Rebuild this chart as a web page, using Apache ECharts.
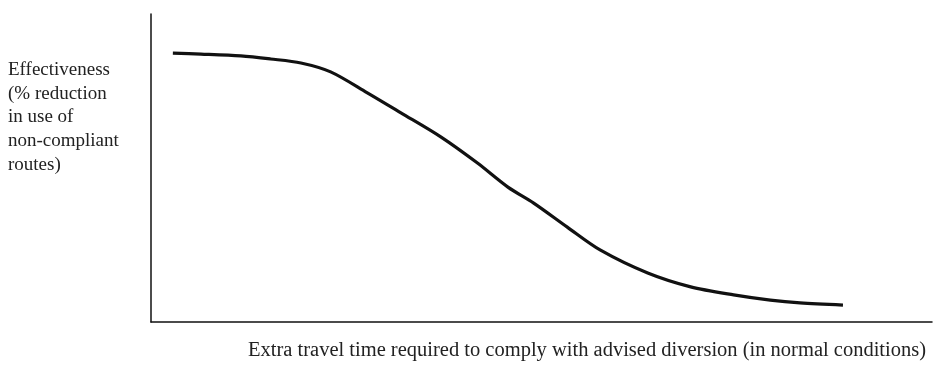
<!DOCTYPE html>
<html>
<head>
<meta charset="utf-8">
<script src="https://cdn.jsdelivr.net/npm/echarts@6/dist/echarts.min.js"></script>
<style>
  html, body { margin: 0; padding: 0; background: #fff; }
  #chart { width: 935px; height: 366px; }
</style>
</head>
<body>
<div id="chart"></div>
<script>
// extra travel time (arbitrary units, 0-100 along the axis)
var travelTime = [2.8, 6.4, 11.5, 15.3, 19.2, 23.0, 27.7, 32.0, 37.1, 41.8, 45.7, 49.0, 53.3, 57.5, 63.6, 69.1, 74.6, 79.3, 83.1, 88.6];
// effectiveness (% reduction, arbitrary scale 0-100)
var effectiveness = [87.3, 87.0, 86.4, 85.4, 84.1, 81.2, 74.4, 67.9, 60.1, 51.6, 43.8, 38.6, 30.8, 23.4, 15.9, 11.4, 8.8, 7.1, 6.2, 5.5];

var yLabelLines = ['Effectiveness', '(% reduction', 'in use of', 'non-compliant', 'routes)'];
var xLabel = 'Extra travel time required to comply with advised diversion (in normal conditions)';

var fontFam = '"Liberation Serif", "DejaVu Serif", serif';

var points = travelTime.map(function (x, i) { return [x, effectiveness[i]]; });

var myChart = echarts.init(document.getElementById('chart'));

var option = {
    animation: false,
    backgroundColor: '#fff',
    grid: { left: 151, top: 14, width: 781, height: 308 },
    xAxis: {
        type: 'value', min: 0, max: 100,
        axisLine: { show: true, lineStyle: { color: '#111', width: 1.5 } },
        axisTick: { show: false }, axisLabel: { show: false },
        splitLine: { show: false }
    },
    yAxis: {
        type: 'value', min: 0, max: 100,
        axisLine: { show: true, lineStyle: { color: '#111', width: 1.5 } },
        axisTick: { show: false }, axisLabel: { show: false },
        splitLine: { show: false }
    },
    series: [{
        type: 'line',
        data: points,
        smooth: 0.3,
        symbol: 'none',
        lineStyle: { color: '#111', width: 3.2 }
    }],
    graphic: [{
        type: 'text',
        left: 8, top: 58,
        style: {
            text: yLabelLines.join('\n'),
            font: '19px ' + fontFam,
            lineHeight: 23.7,
            fill: '#222'
        }
    }, {
        type: 'text',
        left: 248, top: 340,
        style: {
            text: xLabel,
            font: '20.5px ' + fontFam,
            fill: '#222'
        }
    }]
};

myChart.setOption(option);
</script>
</body>
</html>
